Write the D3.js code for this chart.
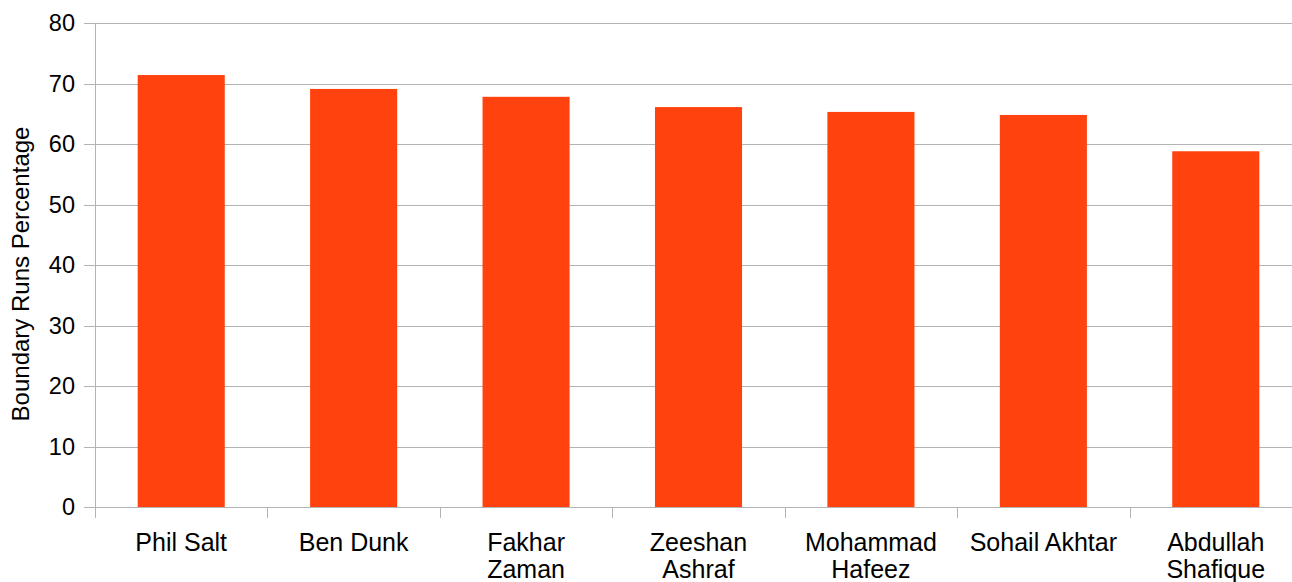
<!DOCTYPE html>
<html>
<head>
<meta charset="utf-8">
<script src="https://cdn.jsdelivr.net/npm/d3@7"></script>
<style>
  body { margin: 0; background: #fff; }
  text { font-family: "Liberation Sans", Arial, sans-serif; fill: #000; }
</style>
</head>
<body>
<svg width="1292" height="582"></svg>
<script>
const svg = d3.select('svg');

// chart data
const players = ['Phil Salt', 'Ben Dunk', 'Fakhar Zaman', 'Zeeshan Ashraf', 'Mohammad Hafeez', 'Sohail Akhtar', 'Abdullah Shafique'];
const labelLines = [['Phil Salt'], ['Ben Dunk'], ['Fakhar', 'Zaman'], ['Zeeshan', 'Ashraf'], ['Mohammad', 'Hafeez'], ['Sohail Akhtar'], ['Abdullah', 'Shafique']];
const boundaryPct = [71.4, 69.1, 67.8, 66.1, 65.3, 64.8, 58.8];
const yTicks = [0, 10, 20, 30, 40, 50, 60, 70, 80];

// plot area
const plotLeft = 95, plotRight = 1302, plotTop = 23, plotBottom = 507;

const xScale = d3.scaleBand().domain(players).range([plotLeft, plotRight]).paddingInner(0.495).paddingOuter(0.2475);
const band = d3.scaleBand().domain(players).range([plotLeft, plotRight]);
const yScale = d3.scaleLinear().domain([0, 80]).range([plotBottom, plotTop]);

// grid lines
svg.append('g')
    .selectAll('line')
    .data(yTicks)
    .enter()
    .append('line')
    .attr('x1', plotLeft - 11)
    .attr('x2', plotRight)
    .attr('y1', d => Math.round(yScale(d)) + 0.5)
    .attr('y2', d => Math.round(yScale(d)) + 0.5)
    .attr('stroke', '#b3b3b3')
    .attr('stroke-width', 1);

// y axis line
svg.append('line')
    .attr('x1', plotLeft + 0.5).attr('x2', plotLeft + 0.5)
    .attr('y1', plotTop).attr('y2', plotBottom + 11)
    .attr('stroke', '#b3b3b3');

// category separators
svg.append('g')
    .selectAll('line')
    .data(players.slice(1))
    .enter()
    .append('line')
    .attr('x1', d => Math.round(band(d)) + 0.5)
    .attr('x2', d => Math.round(band(d)) + 0.5)
    .attr('y1', plotBottom)
    .attr('y2', plotBottom + 11)
    .attr('stroke', '#b3b3b3');

// bars
svg.append('g')
    .selectAll('rect')
    .data(players)
    .enter()
    .append('rect')
    .attr('x', d => xScale(d))
    .attr('width', xScale.bandwidth())
    .attr('y', (d, i) => yScale(boundaryPct[i]))
    .attr('height', (d, i) => yScale(0) - yScale(boundaryPct[i]))
    .attr('fill', '#ff420e');

// y tick labels
svg.append('g')
    .selectAll('text')
    .data(yTicks)
    .enter()
    .append('text')
    .attr('x', 75)
    .attr('y', d => yScale(d) + 8)
    .attr('text-anchor', 'end')
    .style('font-size', '23.5px')
    .text(d => d);

// x labels
const xl = svg.append('g')
    .selectAll('text')
    .data(players)
    .enter()
    .append('text')
    .attr('text-anchor', 'middle')
    .style('font-size', '25px');
xl.each(function(d, i) {
    const cx = band(d) + band.bandwidth() / 2;
    d3.select(this).selectAll('tspan')
        .data(labelLines[i])
        .enter()
        .append('tspan')
        .attr('x', cx)
        .attr('y', (t, j) => 551 + j * 27)
        .text(t => t);
});

// axis title
svg.append('text')
    .attr('transform', 'translate(29,274) rotate(-90)')
    .attr('text-anchor', 'middle')
    .style('font-size', '24px')
    .text('Boundary Runs Percentage');
</script>
</body>
</html>
